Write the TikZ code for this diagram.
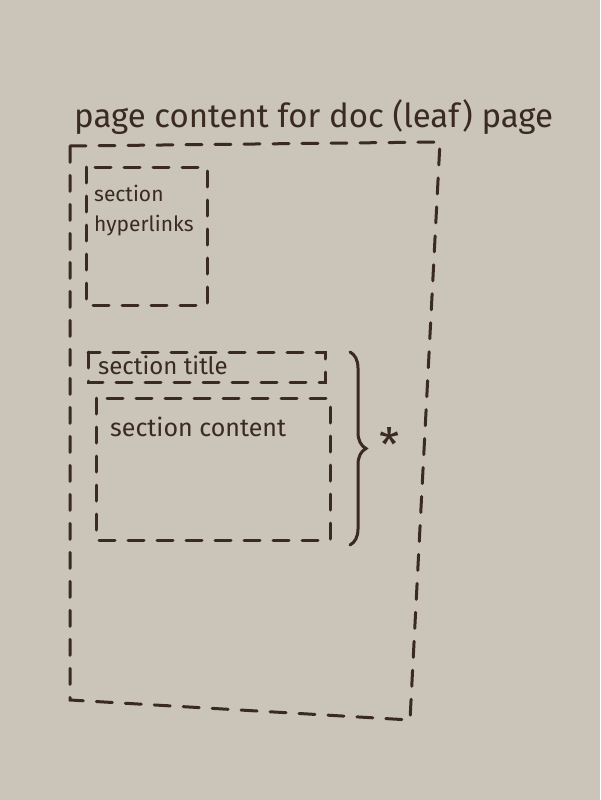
\documentclass[tikz,border=0pt]{standalone}
\usepackage{fontspec}
\setmainfont{Fira Sans}
\usetikzlibrary{decorations.pathreplacing}
\definecolor{board}{HTML}{CAC4B9}
\definecolor{ink}{HTML}{3A2A20}
\tikzset{
  inkline/.style={draw=ink, line width=3pt, line cap=round, dash pattern=on 16pt off 13pt},
  label/.style={text=ink, inner sep=0pt, anchor=base west},
}
\begin{document}
\begin{tikzpicture}[x=1pt,y=-1pt]
\fill[board] (0,0) rectangle (600,800);
\useasboundingbox (0,0) rectangle (600,800);
% title
\node[label, font=\fontsize{33}{38}\selectfont] (title) at (74,127) {page content for doc (leaf) page};
% outer page box
\coordinate (otl) at (70,146);
\coordinate (otr) at (440,142);
\coordinate (obr) at (410,720);
\coordinate (obl) at (70,700);
\draw[inkline] (otl) -- (otr) -- (obr) -- (obl) -- cycle;
% section hyperlinks box
\draw[inkline] (86,167) rectangle (207,305);
\node[label, font=\fontsize{21}{25}\selectfont, align=left, anchor=north west] (links) at (94,185) {section\\[5pt]hyperlinks};
% section title box
\draw[inkline] (88,352) rectangle (325,382);
\node[label, font=\fontsize{24}{28}\selectfont] (stitle) at (98,374) {section title};
% section content box
\draw[inkline] (96,398) rectangle (330,540);
\node[label, font=\fontsize{25}{30}\selectfont] (scontent) at (110,436) {section content};
% brace
\coordinate (btop) at (350,352);
\coordinate (bbot) at (350,545);
\draw[draw=ink, line width=3pt, line cap=round, decorate, decoration={brace, amplitude=16pt}] (btop) -- (bbot);
\node[text=ink, font=\fontsize{46}{48}\selectfont, inner sep=0pt] (star) at (390,444) {*};
\end{tikzpicture}
\end{document}
